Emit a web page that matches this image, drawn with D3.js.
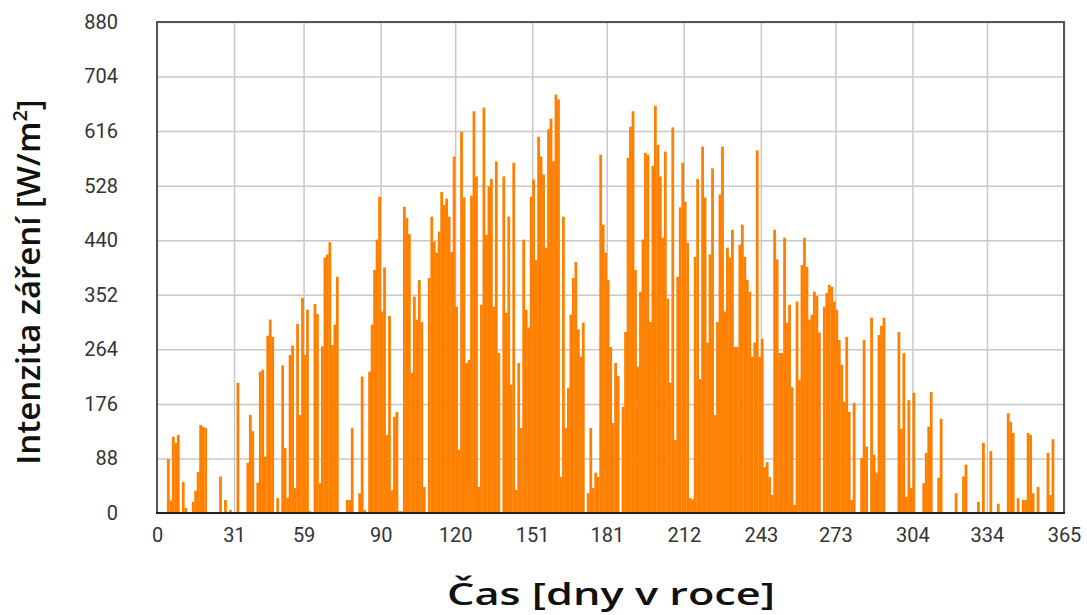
<!DOCTYPE html>
<html>
<head>
<meta charset="utf-8">
<script src="https://cdn.jsdelivr.net/npm/d3@7"></script>
<style>
  body { margin: 0; background: #fff; }
  svg { display: block; }
</style>
</head>
<body>
<svg></svg>
<script>
// daily peak irradiance [W/m2], day 0..364
let values = [
  0, 0, 0, 0, 87, 20, 123, 113, 126, 0,
  50, 8, 0, 0, 18, 36, 66, 142, 139, 137,
  0, 0, 0, 0, 0, 59, 0, 21, 0, 5,
  0, 0, 210, 0, 0, 0, 81, 158, 132, 0,
  49, 228, 231, 91, 286, 312, 284, 0, 24, 0,
  238, 105, 24, 255, 270, 40, 305, 158, 347, 255,
  328, 3, 0, 337, 321, 48, 269, 412, 417, 437,
  271, 304, 381, 0, 0, 0, 21, 21, 137, 0,
  0, 32, 220, 5, 0, 228, 304, 392, 441, 510,
  325, 396, 126, 318, 37, 155, 163, 3, 3, 494,
  476, 450, 226, 349, 312, 376, 308, 42, 0, 379,
  478, 438, 420, 454, 518, 497, 507, 478, 421, 575,
  333, 102, 615, 509, 242, 247, 512, 648, 543, 42,
  336, 654, 449, 527, 539, 333, 567, 258, 0, 543,
  323, 478, 207, 565, 37, 242, 137, 441, 328, 299,
  510, 538, 408, 607, 575, 546, 428, 619, 636, 567,
  675, 667, 58, 478, 137, 202, 320, 379, 405, 296,
  252, 307, 0, 32, 137, 40, 65, 58, 578, 465,
  420, 376, 268, 145, 242, 221, 0, 171, 292, 573,
  623, 648, 392, 236, 357, 441, 581, 578, 308, 560,
  657, 594, 543, 444, 583, 346, 210, 622, 118, 381,
  493, 565, 502, 436, 24, 22, 413, 539, 216, 591,
  509, 275, 417, 556, 158, 308, 514, 591, 325, 428,
  412, 457, 268, 268, 433, 465, 413, 376, 357, 252,
  275, 585, 252, 281, 74, 82, 58, 29, 457, 409,
  258, 258, 444, 307, 336, 203, 13, 341, 215, 400,
  444, 397, 312, 320, 357, 350, 291, 0, 333, 355,
  368, 365, 341, 328, 279, 239, 179, 284, 163, 21,
  178, 0, 0, 89, 279, 107, 0, 315, 94, 65,
  287, 302, 315, 0, 0, 0, 0, 0, 292, 136,
  258, 26, 182, 40, 194, 0, 0, 0, 48, 97,
  139, 195, 0, 0, 57, 152, 0, 0, 0, 0,
  0, 32, 0, 0, 59, 78, 0, 0, 0, 0,
  18, 0, 113, 0, 0, 100, 0, 0, 15, 0,
  0, 0, 161, 147, 129, 0, 24, 0, 21, 21,
  129, 126, 32, 0, 42, 0, 0, 0, 97, 29,
  119, 0, 0, 0, 0
]

// month starts on the x axis
let xTicks = [0, 31, 59, 90, 120, 151, 181, 212, 243, 273, 304, 334, 365]
// y grid steps; the top label in the picture reads 880
let yTicks = [0, 88, 176, 264, 352, 440, 528, 616, 704, 792]
let yTickLabels = ['0', '88', '176', '264', '352', '440', '528', '616', '704', '880']

let xTitle = 'Čas [dny v roce]'
let yTitle = 'Intenzita záření [W/m'

let width = 1087
let height = 615
let plotLeft = 157
let plotRight = 1064
let plotTop = 22
let plotBottom = 513

let svg = d3.select('svg')
  .attr('width', width)
  .attr('height', height)

let xScale = d3.scaleLinear()
  .domain([0, 365])
  .range([plotLeft, plotRight])

let yScale = d3.scaleLinear()
  .domain([0, 792])
  .range([plotBottom, plotTop])

// grid
svg.append('g')
  .attr('transform', `translate(0, ${plotBottom})`)
  .call(d3.axisBottom(xScale).tickValues(xTicks).tickSize(-(plotBottom - plotTop)).tickFormat(''))
  .call(g => g.select('.domain').remove())
  .call(g => g.selectAll('line').attr('stroke', '#c8c8c8').attr('stroke-width', 1.5))

svg.append('g')
  .attr('transform', `translate(${plotLeft}, 0)`)
  .call(d3.axisLeft(yScale).tickValues(yTicks).tickSize(-(plotRight - plotLeft)).tickFormat(''))
  .call(g => g.select('.domain').remove())
  .call(g => g.selectAll('line').attr('stroke', '#c8c8c8').attr('stroke-width', 1.5))

// bars (slight overlap so neighbouring days merge like in the original)
let bw = xScale(1) - xScale(0)
svg.append('g')
  .selectAll('rect')
  .data(values)
  .enter()
  .append('rect')
  .attr('x', (d, i) => xScale(i))
  .attr('width', bw + 0.3)
  .attr('y', d => yScale(d))
  .attr('height', d => plotBottom - yScale(d))
  .attr('fill', '#ff8000')

// frame
svg.append('rect')
  .attr('x', plotLeft)
  .attr('y', plotTop)
  .attr('width', plotRight - plotLeft)
  .attr('height', plotBottom - plotTop)
  .attr('fill', 'none')
  .attr('stroke', '#555555')
  .attr('stroke-width', 2)

svg.append('line')
  .attr('x1', plotLeft - 1).attr('x2', plotRight + 1)
  .attr('y1', plotBottom).attr('y2', plotBottom)
  .attr('stroke', '#222222')
  .attr('stroke-width', 2)

// tick labels
let xAxis = svg.append('g')
  .attr('transform', `translate(0, ${plotBottom})`)
  .call(d3.axisBottom(xScale).tickValues(xTicks).tickSize(0).tickPadding(15))
xAxis.select('.domain').remove()
xAxis.selectAll('text')
  .attr('font-family', 'Roboto, sans-serif')
  .attr('font-size', 20)
  .attr('fill', '#333333')

let yAxis = svg.append('g')
  .attr('transform', `translate(${plotLeft}, 0)`)
  .call(d3.axisLeft(yScale).tickValues(yTicks).tickSize(0).tickPadding(39)
    .tickFormat((d, i) => yTickLabels[i]))
yAxis.select('.domain').remove()
yAxis.selectAll('text')
  .attr('font-family', 'Roboto, sans-serif')
  .attr('font-size', 20)
  .attr('fill', '#333333')

// titles
svg.append('text')
  .attr('x', 611)
  .attr('y', 605)
  .attr('text-anchor', 'middle')
  .attr('font-family', '"Open Sans", sans-serif')
  .attr('font-weight', 600)
  .attr('font-size', 30)
  .attr('textLength', 328)
  .attr('lengthAdjust', 'spacingAndGlyphs')
  .attr('fill', '#111111')
  .text(xTitle)

let yt = svg.append('text')
  .attr('transform', 'translate(40, 282) rotate(-90)')
  .attr('text-anchor', 'middle')
  .attr('font-family', '"Open Sans", sans-serif')
  .attr('font-weight', 600)
  .attr('font-size', 33)
  .attr('fill', '#111111')
yt.append('tspan').text(yTitle)
yt.append('tspan').attr('font-size', 20).attr('dy', -13).text('2')
yt.append('tspan').attr('dy', 13).text(']')
</script>
</body>
</html>
